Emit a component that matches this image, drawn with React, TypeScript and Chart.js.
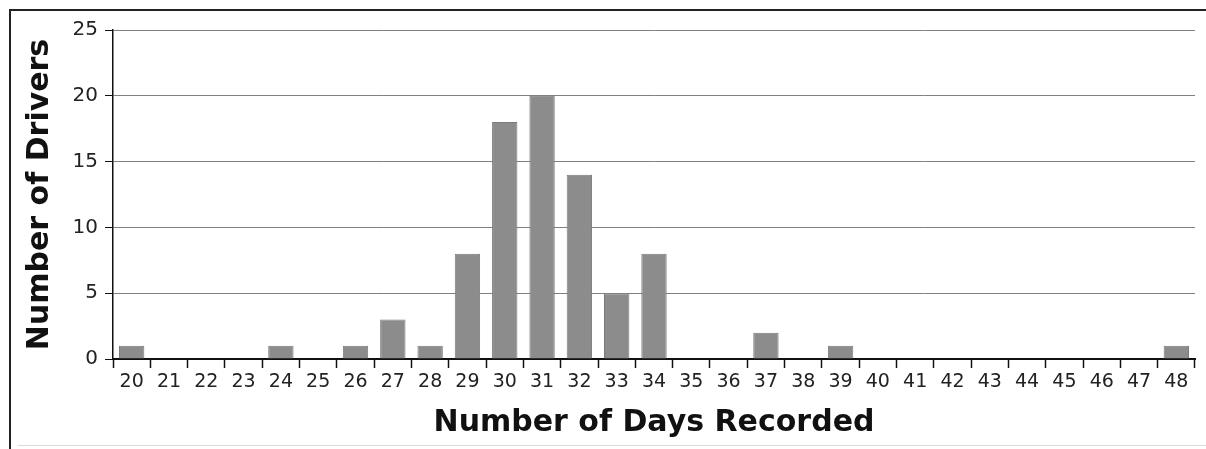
import React, { useEffect, useRef } from "react";
import { Chart, registerables } from "chart.js";

Chart.register(...registerables);

const categories: string[] = [
  "20", "21", "22", "23", "24", "25", "26", "27", "28", "29", "30", "31", "32", "33", "34",
  "35", "36", "37", "38", "39", "40", "41", "42", "43", "44", "45", "46", "47", "48",
];
const drivers: number[] = [
  1, 0, 0, 0, 1, 0, 1, 3, 1, 8, 18, 20, 14, 5, 8,
  0, 0, 2, 0, 1, 0, 0, 0, 0, 0, 0, 0, 0, 1,
];
const yTicks: number[] = [0, 5, 10, 15, 20, 25];
const xTitle = "Number of Days Recorded";
const yTitle = "Number of Drivers";

export default function App() {
  const ref = useRef<HTMLCanvasElement | null>(null);

  useEffect(() => {
    if (!ref.current) return;
    const chart = new Chart(ref.current, {
      type: "bar",
      data: {
        labels: categories,
        datasets: [
          {
            data: drivers,
            backgroundColor: "#8c8c8c",
            borderColor: "#7a7a7a",
            borderWidth: 1,
            barPercentage: 0.68,
            categoryPercentage: 1,
          },
        ],
      },
      options: {
        animation: false,
        responsive: false,
        maintainAspectRatio: false,
        layout: { padding: { top: 18, right: 11, left: 0, bottom: 0 } },
        plugins: { legend: { display: false }, tooltip: { enabled: false } },
        scales: {
          x: {
            offset: true,
            grid: {
              offset: true,
              drawOnChartArea: false,
              drawTicks: true,
              tickLength: 9,
              tickColor: "#111",
              tickWidth: 1.5,
            },
            border: { display: true, color: "#111", width: 2 },
            ticks: {
              color: "#222",
              font: { family: "DejaVu Sans", size: 19 },
              padding: 3,
              maxRotation: 0,
              autoSkip: false,
            },
            title: {
              display: true,
              text: xTitle,
              color: "#111",
              font: { family: "DejaVu Sans", size: 30, weight: "bold" },
              padding: { top: 0, bottom: 4 },
            },
            afterFit: (s: any) => {
              s.height = 86;
            },
          },
          y: {
            min: 0,
            max: 25,
            afterBuildTicks: (s: any) => {
              s.ticks = yTicks.map((v) => ({ value: v }));
            },
            grid: {
              color: "#808080",
              lineWidth: 1,
              tickLength: 8,
              tickColor: "#111",
            },
            border: { display: true, color: "#111", width: 1.5 },
            ticks: {
              color: "#222",
              font: { family: "DejaVu Sans", size: 20 },
              padding: 7,
            },
            title: {
              display: true,
              text: yTitle,
              color: "#111",
              font: { family: "DejaVu Sans", size: 30, weight: "bold" },
              padding: { top: 11, bottom: 0 },
            },
            afterFit: (s: any) => {
              s.width = 102;
            },
          },
        },
      },
    });
    return () => chart.destroy();
  }, []);

  return (
    <div>
      <div
        style={{
          position: "absolute",
          left: 9,
          top: 9,
          width: 1195,
          height: 440,
          borderTop: "2px solid #222",
          borderLeft: "2px solid #222",
        }}
      />
      <div
        style={{
          position: "absolute",
          left: 18,
          top: 445,
          width: 1188,
          height: 1,
          background: "#dadada",
        }}
      />
      <canvas
        ref={ref}
        width={1195}
        height={434}
        style={{ position: "absolute", left: 11, top: 11, width: 1195, height: 434 }}
      />
    </div>
  );
}
